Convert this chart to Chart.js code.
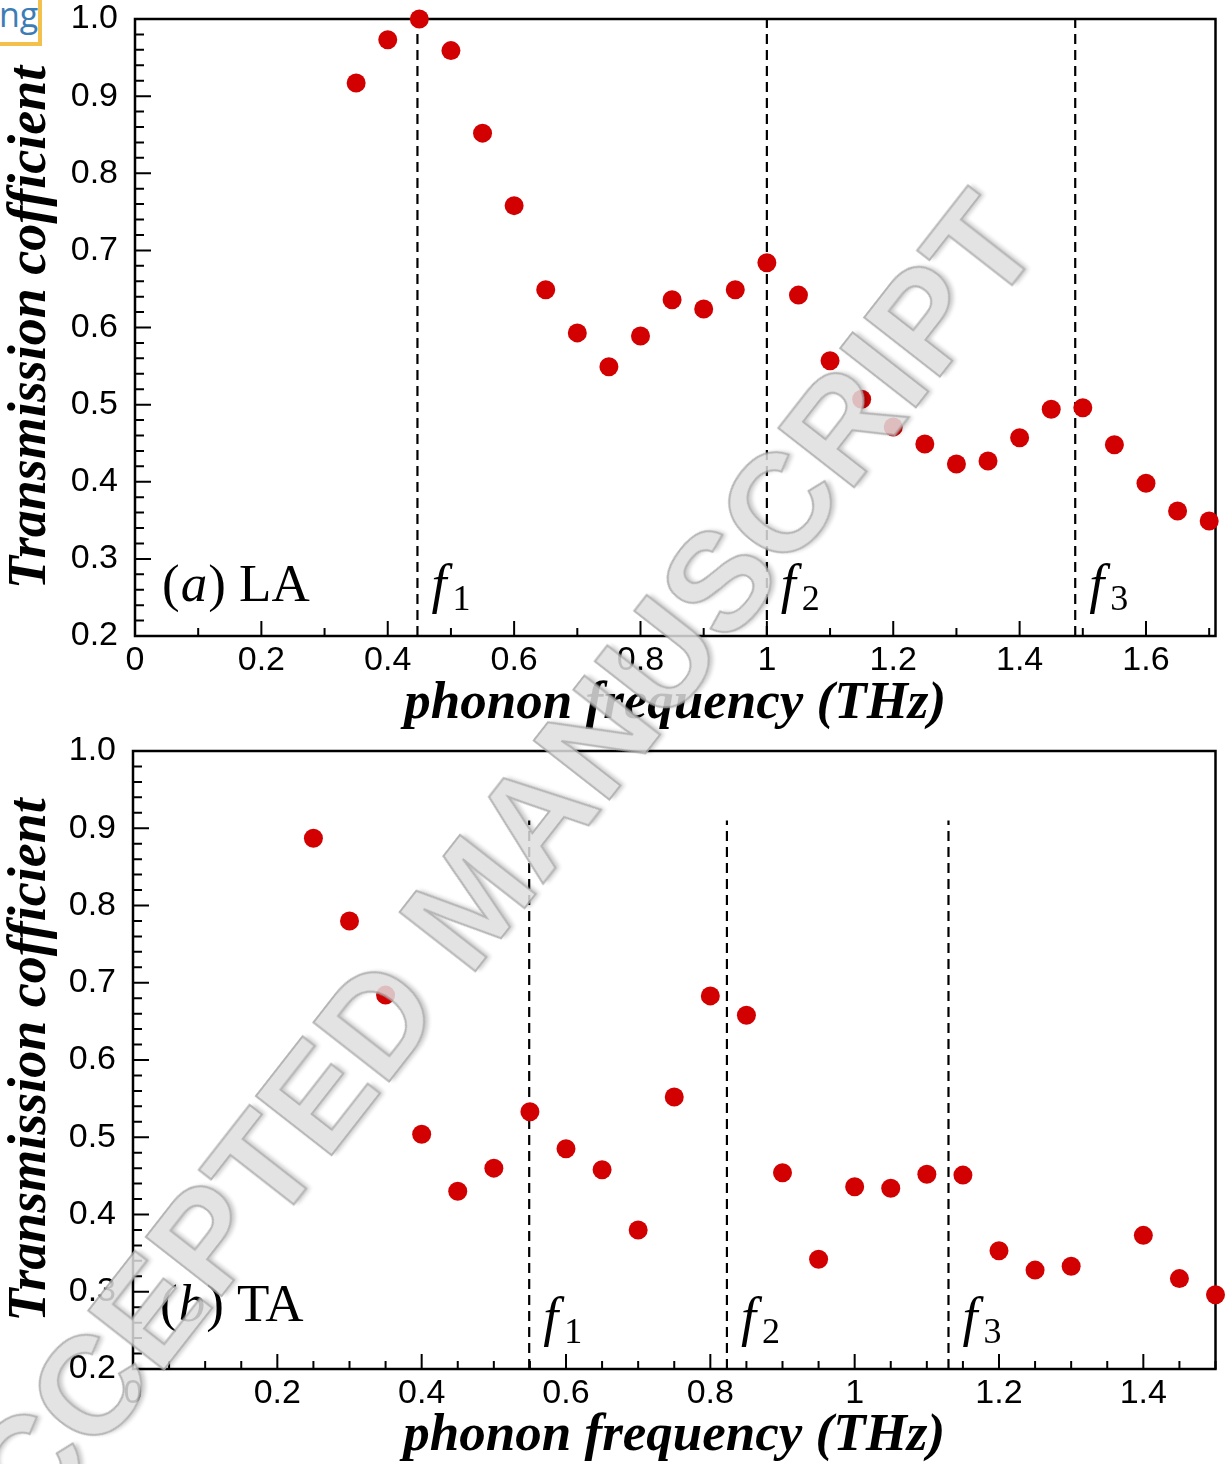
<!DOCTYPE html>
<html>
<head>
<meta charset="utf-8">
<script src="https://cdn.jsdelivr.net/npm/chart.js@4.4.1/dist/chart.umd.min.js"></script>
<style>
  html, body { margin: 0; padding: 0; background: #fff; }
  body { width: 1225px; height: 1464px; position: relative; overflow: hidden; }
  .panel { position: absolute; left: 0; width: 1225px; height: 732px; }
  #panel-a { top: 0; }
  #panel-b { top: 732px; }
  .logo {
    position: absolute; left: 0; top: 0; width: 38px; height: 42px;
    background: #fff; border-right: 4px solid #f3c04b; border-bottom: 4px solid #f3c04b;
    color: #3b7db4; font: 34px "Open Sans", sans-serif; line-height: 28px;
    overflow: hidden; text-indent: -1px;
  }
  .watermark {
    position: absolute; left: 470px; top: 900px;
    transform: translate(-50%, -50%) rotate(-52deg);
    white-space: nowrap; font: bold 140px "Liberation Sans", Arial, sans-serif;
    color: #dedede; -webkit-text-stroke: 2px #a8a8a8;
    text-shadow: 3px 3px 4px rgba(0, 0, 0, 0.25);
    opacity: 0.85; pointer-events: none;
  }
</style>
</head>
<body>
<div class="panel" id="panel-a"><canvas id="chart-a" width="1225" height="732"></canvas></div>
<div class="panel" id="panel-b"><canvas id="chart-b" width="1225" height="732"></canvas></div>
<div class="logo">ng</div>
<div class="watermark">ACCEPTED MANUSCRIPT</div>
<script>
// (a) LA branch
var laFreq = [0.35, 0.40, 0.45, 0.50, 0.55, 0.60, 0.65, 0.70, 0.75, 0.80, 0.85, 0.90, 0.95, 1.00,
              1.05, 1.10, 1.15, 1.20, 1.25, 1.30, 1.35, 1.40, 1.45, 1.50, 1.55, 1.60, 1.65, 1.70];
var laTrans = [0.917, 0.973, 1.000, 0.959, 0.852, 0.758, 0.649, 0.593, 0.549, 0.589, 0.636, 0.624, 0.649, 0.684,
               0.642, 0.557, 0.507, 0.471, 0.449, 0.423, 0.427, 0.457, 0.494, 0.496, 0.448, 0.398, 0.362, 0.349];
var laMarks = [0.447, 1.0, 1.488];

// (b) TA branch
var taFreq = [0.25, 0.30, 0.35, 0.40, 0.45, 0.50, 0.55, 0.60, 0.65, 0.70, 0.75, 0.80, 0.85, 0.90,
              0.95, 1.00, 1.05, 1.10, 1.15, 1.20, 1.25, 1.30, 1.40, 1.45, 1.50];
var taTrans = [0.887, 0.780, 0.684, 0.504, 0.430, 0.460, 0.533, 0.485, 0.458, 0.380, 0.552, 0.683, 0.658, 0.454,
               0.342, 0.436, 0.434, 0.452, 0.451, 0.353, 0.328, 0.333, 0.373, 0.317, 0.296];
var taMarks = [0.549, 0.823, 1.130];
var taMarkTop = 0.91;

var markNames = ["1", "2", "3"];
var laXTicks = [0, 0.2, 0.4, 0.6, 0.8, 1, 1.2, 1.4, 1.6];
var taXTicks = [0, 0.2, 0.4, 0.6, 0.8, 1, 1.2, 1.4];
var yTicks = [0.2, 0.3, 0.4, 0.5, 0.6, 0.7, 0.8, 0.9, 1.0];

var serif = "'Liberation Serif', 'Times New Roman', serif";
var sans = "'Liberation Sans', Arial, sans-serif";

// inward ticks + box frame, drawn under the points
var frameTicksPlugin = {
    id: "frameTicks",
    beforeDatasetsDraw(chart, args, opts) {
        let ctx = chart.ctx;
        let a = chart.chartArea;
        let x = chart.scales.x, y = chart.scales.y;
        ctx.save();
        ctx.strokeStyle = "#000";
        ctx.lineWidth = 2;
        ctx.beginPath();
        let n = Math.round((y.max - y.min) / 0.02);
        for (let i = 0; i <= n; i++) {
            let py = y.getPixelForValue(y.min + i * 0.02);
            ctx.moveTo(a.left, py);
            ctx.lineTo(a.left + (i % 5 === 0 ? 16 : 9), py);
        }
        let m = Math.floor((x.max - x.min) / opts.xMinor + 1e-6);
        let every = Math.round(0.2 / opts.xMinor);
        for (let i = 0; i <= m; i++) {
            let px = x.getPixelForValue(x.min + i * opts.xMinor);
            ctx.moveTo(px, a.bottom);
            ctx.lineTo(px, a.bottom - (i % every === 0 ? 15 : 8));
        }
        ctx.stroke();
        ctx.lineWidth = 2.5;
        ctx.strokeRect(a.left, a.top, a.right - a.left, a.bottom - a.top);
        ctx.restore();
    },
    afterDatasetsDraw(chart, args, opts) {
        let ctx = chart.ctx;
        let a = chart.chartArea;
        let x = chart.scales.x;
        ctx.save();
        ctx.fillStyle = "#000";
        ctx.textBaseline = "alphabetic";
        // panel label, e.g. (a) LA
        let px = a.left + 27, py = a.bottom - opts.labelLift;
        ctx.font = "53px " + serif;
        ctx.fillText("(", px, py);
        px += ctx.measureText("(").width + 1;
        ctx.font = "italic 53px " + serif;
        ctx.fillText(opts.letter, px, py);
        px += ctx.measureText(opts.letter).width + 1;
        ctx.font = "53px " + serif;
        ctx.fillText(") " + opts.branch, px, py);
        // f1, f2, f3 next to the dashed lines
        opts.marks.forEach(function (f, i) {
            let fx = x.getPixelForValue(f) + 14;
            ctx.font = "italic 54px " + serif;
            ctx.fillText("f", fx, a.bottom - 34);
            ctx.font = "36px " + serif;
            ctx.fillText(markNames[i], fx + 21, a.bottom - 26);
        });
        ctx.restore();
    }
};

function buildChart(canvasId, freq, trans, marks, markTop, xMax, xTicks, cfg) {
    let datasets = [{
        type: "scatter",
        data: freq.map(function (f, i) { return { x: f, y: trans[i] }; }),
        backgroundColor: "#d20000",
        borderWidth: 0,
        pointRadius: 9.5,
        clip: false,
        order: 1
    }];
    marks.forEach(function (f) {
        datasets.push({
            type: "line",
            data: [{ x: f, y: 0.2 }, { x: f, y: markTop }],
            borderColor: "#000",
            borderWidth: 2.2,
            borderDash: [10, 6],
            pointRadius: 0,
            order: 2
        });
    });

    let ctx = document.getElementById(canvasId).getContext("2d");
    return new Chart(ctx, {
        type: "scatter",
        data: { datasets: datasets },
        plugins: [frameTicksPlugin],
        options: {
            responsive: false,
            animation: false,
            devicePixelRatio: 1,
            layout: { padding: { top: 19, right: 8, left: 0, bottom: 0 } },
            plugins: {
                legend: { display: false },
                tooltip: { enabled: false },
                frameTicks: {
                    xMinor: cfg.xMinor,
                    letter: cfg.letter,
                    branch: cfg.branch,
                    labelLift: cfg.labelLift,
                    marks: marks
                }
            },
            scales: {
                x: {
                    type: "linear",
                    min: 0,
                    max: xMax,
                    afterBuildTicks: function (scale) {
                        scale.ticks = xTicks.map(function (v) { return { value: v }; });
                    },
                    afterFit: function (scale) {
                        scale.height = cfg.xAxisHeight;
                        scale.paddingLeft = 0;
                        scale.paddingRight = 0;
                    },
                    grid: { display: true, drawOnChartArea: false, drawTicks: false },
                    border: { display: false },
                    ticks: {
                        padding: 4,
                        color: "#000",
                        font: { family: sans, size: 34 },
                        maxRotation: 0,
                        autoSkip: false,
                        callback: function (v) { return String(Number(Number(v).toFixed(2))); }
                    },
                    title: {
                        display: true,
                        text: "phonon frequency (THz)",
                        color: "#000",
                        font: { family: serif, size: 53, style: "italic", weight: "bold", lineHeight: 1 },
                        padding: { top: 0, bottom: 1 }
                    }
                },
                y: {
                    type: "linear",
                    min: 0.2,
                    max: 1.0,
                    afterBuildTicks: function (scale) {
                        scale.ticks = yTicks.map(function (v) { return { value: v }; });
                    },
                    afterFit: function (scale) {
                        scale.width = cfg.yAxisWidth;
                        scale.paddingTop = 0;
                        scale.paddingBottom = 0;
                    },
                    grid: { display: true, drawOnChartArea: false, drawTicks: false },
                    border: { display: false },
                    ticks: {
                        padding: 17,
                        color: "#000",
                        font: { family: sans, size: 34 },
                        callback: function (v) { return Number(v).toFixed(1); }
                    },
                    title: {
                        display: true,
                        text: "Transmission cofficient",
                        color: "#000",
                        font: { family: serif, size: 54, style: "italic", weight: "bold", lineHeight: 1 },
                        padding: { top: 4, bottom: 0 }
                    }
                }
            }
        }
    });
}

var laChart = buildChart("chart-a", laFreq, laTrans, laMarks, 1.0, 1.71, laXTicks, {
    xMinor: 0.1, letter: "a", branch: "LA", labelLift: 35, xAxisHeight: 96, yAxisWidth: 135
});
var taChart = buildChart("chart-b", taFreq, taTrans, taMarks, taMarkTop, 1.5, taXTicks, {
    xMinor: 0.05, letter: "b", branch: "TA", labelLift: 48, xAxisHeight: 95, yAxisWidth: 133
});
</script>
</body>
</html>
